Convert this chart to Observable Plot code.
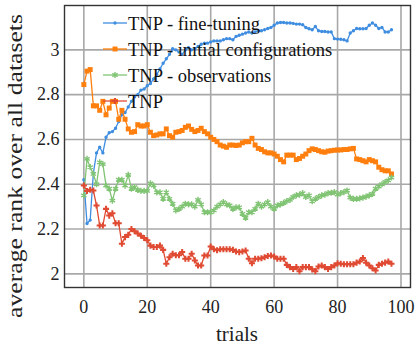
<!DOCTYPE html>
<html>
<head>
<meta charset="utf-8">
<script src="https://cdn.jsdelivr.net/npm/d3@7"></script>
<script src="https://cdn.jsdelivr.net/npm/@observablehq/plot@0.6"></script>
<style>
  html, body { margin: 0; padding: 0; background: white; }
</style>
</head>
<body>
<div id="chart"></div>
<script>
// ---- data ----
const trials = d3.range(98);
const seriesNames = ["TNP - fine-tuning", "TNP - initial configurations", "TNP - observations", "TNP"];
const fineTuning = [2.42,2.225,2.24,2.45,2.54,2.565,2.54,2.61,2.63,2.635,2.65,2.68,2.71,2.72,2.745,2.77,2.79,2.80,2.82,2.825,
  2.84,2.85,2.87,2.89,2.915,2.94,2.96,2.98,3.005,3.0,2.99,2.98,3.0,3.01,3.0,3.005,3.015,3.025,3.03,3.03,
  3.035,3.04,3.04,3.04,3.045,3.05,3.05,3.045,3.06,3.065,3.07,3.075,3.08,3.075,3.08,3.085,3.085,3.09,3.095,3.10,
  3.11,3.12,3.122,3.122,3.12,3.12,3.118,3.115,3.115,3.112,3.10,3.094,3.09,3.104,3.085,3.082,3.082,3.08,3.08,3.05,
  3.048,3.047,3.045,3.04,3.075,3.085,3.095,3.094,3.094,3.095,3.11,3.12,3.11,3.095,3.10,3.08,3.08,3.09];
const initialConfigs = [2.845,2.905,2.912,2.75,2.75,2.73,2.77,2.71,2.74,2.77,2.77,2.69,2.73,2.69,2.647,2.632,2.635,2.666,2.66,2.66,
  2.666,2.632,2.617,2.62,2.625,2.625,2.647,2.617,2.61,2.632,2.635,2.64,2.654,2.66,2.645,2.635,2.64,2.65,2.635,2.625,
  2.61,2.60,2.59,2.575,2.57,2.565,2.575,2.575,2.573,2.575,2.585,2.59,2.59,2.605,2.575,2.56,2.555,2.545,2.54,2.54,
  2.535,2.525,2.51,2.50,2.53,2.53,2.53,2.51,2.515,2.525,2.535,2.55,2.558,2.555,2.55,2.545,2.543,2.548,2.55,2.552,
  2.553,2.553,2.555,2.555,2.558,2.56,2.513,2.51,2.505,2.50,2.51,2.505,2.50,2.476,2.465,2.46,2.46,2.446];
const observations = [2.35,2.513,2.476,2.446,2.40,2.498,2.49,2.394,2.38,2.327,2.38,2.42,2.42,2.394,2.442,2.38,2.387,2.375,2.37,2.37,
  2.37,2.404,2.394,2.364,2.364,2.335,2.364,2.335,2.313,2.283,2.29,2.30,2.313,2.31,2.31,2.30,2.33,2.31,2.275,2.275,
  2.275,2.283,2.30,2.31,2.32,2.31,2.305,2.29,2.297,2.297,2.268,2.25,2.275,2.275,2.29,2.313,2.30,2.31,2.32,2.30,
  2.29,2.305,2.31,2.317,2.325,2.33,2.343,2.35,2.354,2.36,2.343,2.35,2.324,2.335,2.343,2.35,2.354,2.36,2.362,2.365,
  2.354,2.36,2.365,2.372,2.34,2.335,2.335,2.337,2.34,2.345,2.35,2.357,2.38,2.39,2.40,2.41,2.417,2.43];
const tnp = [2.394,2.37,2.375,2.372,2.305,2.216,2.216,2.29,2.26,2.27,2.226,2.226,2.134,2.164,2.174,2.20,2.19,2.18,2.17,2.16,
  2.15,2.126,2.12,2.12,2.126,2.107,2.045,2.074,2.09,2.083,2.083,2.097,2.067,2.067,2.09,2.06,2.037,2.037,2.082,2.082,
  2.122,2.11,2.105,2.11,2.11,2.11,2.11,2.107,2.10,2.097,2.10,2.104,2.067,2.047,2.067,2.067,2.07,2.074,2.08,2.082,
  2.077,2.067,2.067,2.067,2.04,2.03,2.022,2.03,2.012,2.03,2.03,2.03,2.02,2.012,2.033,2.037,2.03,2.022,2.03,2.037,
  2.047,2.045,2.043,2.043,2.043,2.043,2.05,2.055,2.071,2.05,2.037,2.025,2.015,2.04,2.045,2.05,2.055,2.045];
const xTicks = [0, 20, 40, 60, 80, 100];
const yTicks = [2, 2.2, 2.4, 2.6, 2.8, 3];
const yTickLabels = ["2", "2.2", "2.4", "2.6", "2.8", "3"];
const xLabel = "trials";
const yLabel = "average rank over all datasets";

// ---- styling ----
const colors = ["#3f8de0", "#ff7f0e", "#80c474", "#e04a32"];
const symbols = ["circle", "square", "asterisk", "cross"];
const symbolR = [1.7, 2.8, 2.9, 2.55];
const valuesList = [fineTuning, initialConfigs, observations, tnp];

const rows = [];
valuesList.forEach((vals, s) => vals.forEach((v, i) => rows.push({trial: trials[i], value: v, series: seriesNames[s]})));

const W = 416, H = 345, mL = 64, mR = 6, mT = 5, mB = 58;
const fontFam = "Liberation Serif";

const marks = [
  Plot.ruleX(xTicks, {stroke: "#a8a8a8", strokeWidth: 1.6}),
  Plot.ruleY(yTicks, {stroke: "#a8a8a8", strokeWidth: 1.6})
];
seriesNames.forEach((name, s) => {
  const d = rows.filter(r => r.series === name);
  marks.push(Plot.line(d, {x: "trial", y: "value", stroke: colors[s], strokeWidth: 1.3}));
  const isStroke = symbols[s] === "asterisk";
  marks.push(Plot.dot(d, {
    x: "trial", y: "value", symbol: () => symbols[s], r: symbolR[s],
    fill: isStroke ? "none" : colors[s],
    stroke: isStroke ? colors[s] : "none",
    strokeWidth: isStroke ? 1.4 : 0
  }));
});
marks.push(Plot.frame({stroke: "#333", strokeWidth: 1.4}));

const chart = Plot.plot({
  width: W, height: H,
  marginLeft: mL, marginRight: mR, marginTop: mT, marginBottom: mB,
  x: {domain: [-6.1, 103], ticks: xTicks, tickSize: 0, tickPadding: 13, label: null},
  y: {domain: [1.939, 3.198], ticks: yTicks, tickFormat: (d) => yTickLabels[yTicks.indexOf(d)], tickSize: 0, tickPadding: 5, label: null},
  symbol: {type: "identity"},
  style: {fontSize: "18px", color: "#222", background: "white", overflow: "visible"},
  marks
});
document.getElementById("chart").appendChild(chart);

// ---- axis titles and legend ----
const svgNode = chart.tagName.toLowerCase() === "svg" ? chart : chart.querySelector("svg");
const svg = d3.select(svgNode);
svg.append("text")
  .attr("x", (mL + (W - mR)) / 2).attr("y", 341)
  .attr("text-anchor", "middle")
  .style("font-size", "21px").attr("fill", "#222")
  .text(xLabel);
svg.append("text")
  .attr("transform", "translate(22,166) rotate(-90)")
  .attr("text-anchor", "middle")
  .attr("textLength", 304).attr("lengthAdjust", "spacingAndGlyphs")
  .style("font-size", "21px").attr("fill", "#222")
  .text(yLabel);

const legY = [23, 49, 75, 101];
const d3Sym = {circle: d3.symbolCircle, square: d3.symbolSquare, asterisk: d3.symbolAsterisk, cross: d3.symbolCross};
const leg = svg.append("g").attr("text-anchor", "start");
seriesNames.forEach((name, s) => {
  const g = leg.append("g").attr("transform", `translate(0,${legY[s]})`);
  g.append("line").attr("x1", 103).attr("x2", 127).attr("y1", 0).attr("y2", 0)
    .attr("stroke", colors[s]).attr("stroke-width", 1.3);
  const isStroke = symbols[s] === "asterisk";
  g.append("path").attr("transform", "translate(115,0)")
    .attr("d", d3.symbol(d3Sym[symbols[s]], Math.PI * symbolR[s] * symbolR[s])())
    .attr("fill", isStroke ? "none" : colors[s])
    .attr("stroke", isStroke ? colors[s] : "none")
    .attr("stroke-width", isStroke ? 1.4 : 0);
  g.append("text").attr("x", 128).attr("y", 6.5).attr("text-anchor", "start")
    .style("font-size", "18.5px").attr("fill", "#111")
    .text(name);
});
// force serif font on every text (axis ticks included)
svg.attr("font-family", fontFam).style("font-family", fontFam);
svg.selectAll("g").attr("font-family", null);
svg.selectAll("text").attr("font-family", fontFam).style("font-family", fontFam);
</script>
</body>
</html>
